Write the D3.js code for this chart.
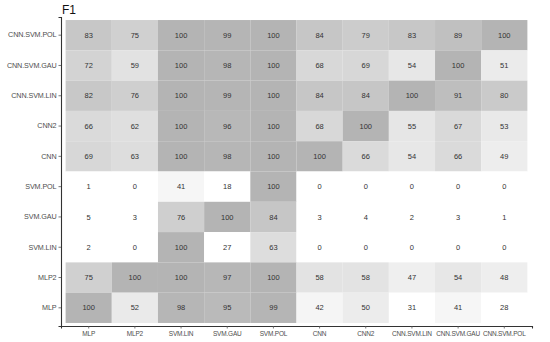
<!DOCTYPE html>
<html>
<head>
<meta charset="utf-8">
<script src="https://cdn.jsdelivr.net/npm/d3@7"></script>
<style>
  body { margin: 0; background: #fff; }
  text { font-family: "Liberation Sans", Arial, sans-serif; }
</style>
</head>
<body>
<div id="chart"></div>
<script>
// F1 heatmap

// columns (x) and rows (y, listed top to bottom)
var cols = ["MLP", "MLP2", "SVM.LIN", "SVM.GAU", "SVM.POL", "CNN", "CNN2", "CNN.SVM.LIN", "CNN.SVM.GAU", "CNN.SVM.POL"];
var rows = ["CNN.SVM.POL", "CNN.SVM.GAU", "CNN.SVM.LIN", "CNN2", "CNN", "SVM.POL", "SVM.GAU", "SVM.LIN", "MLP2", "MLP"];

// F1 values, one array per row (same order as rows)
var valCnnSvmPol = [83, 75, 100, 99, 100, 84, 79, 83, 89, 100];
var valCnnSvmGau = [72, 59, 100, 98, 100, 68, 69, 54, 100, 51];
var valCnnSvmLin = [82, 76, 100, 99, 100, 84, 84, 100, 91, 80];
var valCnn2      = [66, 62, 100, 96, 100, 68, 100, 55, 67, 53];
var valCnn       = [69, 63, 100, 98, 100, 100, 66, 54, 66, 49];
var valSvmPol    = [1, 0, 41, 18, 100, 0, 0, 0, 0, 0];
var valSvmGau    = [5, 3, 76, 100, 84, 3, 4, 2, 3, 1];
var valSvmLin    = [2, 0, 100, 27, 63, 0, 0, 0, 0, 0];
var valMlp2      = [75, 100, 100, 97, 100, 58, 58, 47, 54, 48];
var valMlp       = [100, 52, 98, 95, 99, 42, 50, 31, 41, 28];

var matrix = [valCnnSvmPol, valCnnSvmGau, valCnnSvmLin, valCnn2, valCnn,
              valSvmPol, valSvmGau, valSvmLin, valMlp2, valMlp];

// flatten into cells
var cells = [];
matrix.forEach(function(r, i) {
  r.forEach(function(v, j) {
    cells.push({ row: rows[i], col: cols[j], value: v });
  });
});

var svgWidth = 550;
var svgHeight = 342;

var margin = { top: 17, right: 18, bottom: 16, left: 61 };
var width = svgWidth - margin.left - margin.right;
var height = svgHeight - margin.top - margin.bottom;

var svg = d3.select("#chart")
  .append("svg")
  .attr("width", svgWidth)
  .attr("height", svgHeight);

svg.append("rect")
  .attr("width", svgWidth)
  .attr("height", svgHeight)
  .attr("fill", "#fff");

var chartGroup = svg.append("g")
  .attr("transform", `translate(${margin.left}, ${margin.top})`);

// scales
var xScale = d3.scaleBand()
  .domain(cols)
  .range([0, width])
  .paddingInner(0)
  .paddingOuter(0.1);

var yScale = d3.scaleBand()
  .domain(rows)
  .range([0, height])
  .paddingInner(0)
  .paddingOuter(0.1);

var color = d3.scaleLinear()
  .domain([33, 100])
  .range(["#ffffff", "#b4b4b4"])
  .clamp(true);

// tiles
chartGroup.selectAll("rect.tile")
  .data(cells)
  .enter()
  .append("rect")
  .attr("class", "tile")
  .attr("x", d => xScale(d.col))
  .attr("y", d => yScale(d.row))
  .attr("width", xScale.bandwidth())
  .attr("height", yScale.bandwidth())
  .attr("fill", d => color(d.value));

// numbers inside tiles
chartGroup.selectAll("text.val")
  .data(cells)
  .enter()
  .append("text")
  .attr("class", "val")
  .attr("x", d => xScale(d.col) + xScale.bandwidth() / 2)
  .attr("y", d => yScale(d.row) + yScale.bandwidth() / 2)
  .attr("dy", "0.35em")
  .attr("text-anchor", "middle")
  .attr("font-size", "7.5px")
  .attr("fill", "#333")
  .text(d => d.value);

// axes
var bottomAxis = d3.axisBottom(xScale).tickSize(2.5).tickPadding(3);
var leftAxis = d3.axisLeft(yScale).tickSize(2.5).tickPadding(2);

var xAxisG = chartGroup.append("g")
  .attr("transform", `translate(0, ${height})`)
  .call(bottomAxis);

var yAxisG = chartGroup.append("g")
  .call(leftAxis);

[xAxisG, yAxisG].forEach(function(g) {
  g.select(".domain").attr("stroke", "#333").attr("stroke-width", 1.1);
  g.selectAll(".tick line").attr("stroke", "#555").attr("stroke-width", 0.8);
  g.selectAll(".tick text")
    .attr("fill", "#4d4d4d")
    .attr("font-family", "Liberation Sans, Arial, sans-serif");
});

xAxisG.selectAll(".tick text")
  .attr("font-size", "6.5px")
  .attr("letter-spacing", "-0.2px");

yAxisG.selectAll(".tick text")
  .attr("font-size", "7.2px")
  .attr("letter-spacing", "-0.1px");

// title
svg.append("text")
  .attr("x", 62)
  .attr("y", 14)
  .attr("font-size", "12px")
  .attr("font-weight", "500")
  .attr("fill", "#111")
  .text("F1");
</script>
</body>
</html>
